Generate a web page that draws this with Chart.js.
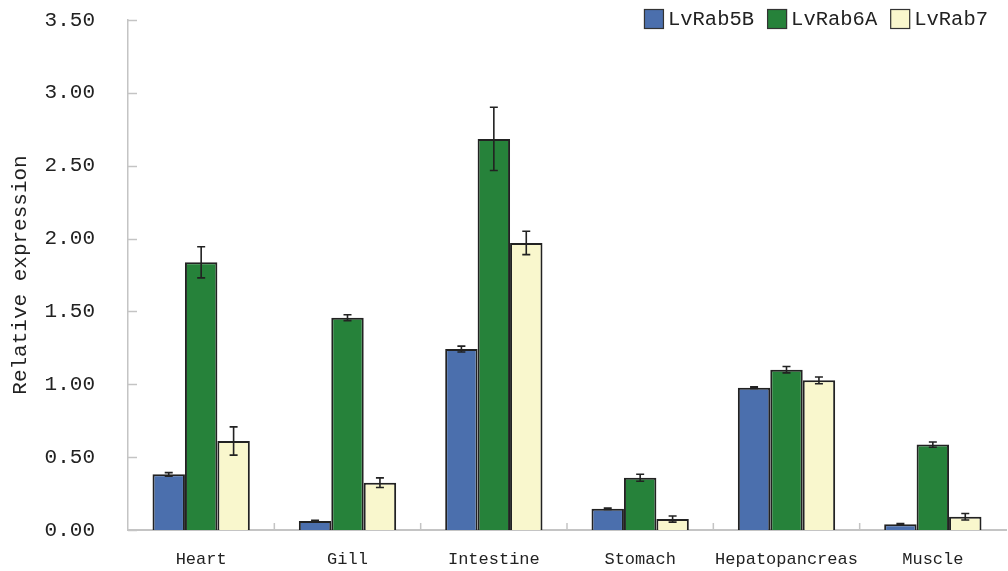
<!DOCTYPE html>
<html><head><meta charset="utf-8">
<script src="https://cdn.jsdelivr.net/npm/chart.js@4.4.1/dist/chart.umd.min.js"></script>
<style>html,body{margin:0;padding:0;background:#fff;}#wrap{width:1008px;height:571px;position:relative;}</style>
</head><body><div id="wrap"><canvas id="c" width="1008" height="571"></canvas></div>
<script>
const categories = ['Heart','Gill','Intestine','Stomach','Hepatopancreas','Muscle'];
const seriesNames = ['LvRab5B','LvRab6A','LvRab7'];
const rab5B = [0.382, 0.062, 1.242, 0.146, 0.977, 0.039];
const rab5BErr = [0.012, 0.005, 0.020, 0.005, 0.005, 0.005];
const rab6A = [1.837, 1.457, 2.684, 0.359, 1.100, 0.586];
const rab6AErr = [0.107, 0.020, 0.217, 0.024, 0.022, 0.018];
const rab7 = [0.611, 0.325, 1.970, 0.075, 1.027, 0.091];
const rab7Err = [0.097, 0.033, 0.080, 0.021, 0.023, 0.022];
const yTicks = [0, 0.5, 1.0, 1.5, 2.0, 2.5, 3.0, 3.5];
const colors = ['#4b6fad', '#26823a', '#f9f7cd'];

const errors = [rab5BErr, rab6AErr, rab7Err];
const MONO = '"Liberation Mono", "DejaVu Sans Mono", monospace';

const errorBars = {
  id: 'errorBars',
  afterDatasetsDraw(chart) {
    const ctx = chart.ctx, ys = chart.scales.y;
    ctx.save();
    ctx.strokeStyle = '#222';
    ctx.lineWidth = 1.6;
    chart.data.datasets.forEach((ds, di) => {
      const meta = chart.getDatasetMeta(di);
      meta.data.forEach((el, i) => {
        const v = ds.data[i], e = errors[di][i];
        const yt = ys.getPixelForValue(v + e), yb = ys.getPixelForValue(v - e);
        ctx.beginPath();
        ctx.moveTo(el.x, yt); ctx.lineTo(el.x, yb);
        ctx.moveTo(el.x - 4, yt); ctx.lineTo(el.x + 4, yt);
        ctx.moveTo(el.x - 4, yb); ctx.lineTo(el.x + 4, yb);
        ctx.stroke();
      });
    });
    ctx.restore();
  }
};

const innerTicks = {
  id: 'innerTicks',
  afterDraw(chart) {
    const ctx = chart.ctx, ys = chart.scales.y, xs = chart.scales.x, a = chart.chartArea;
    ctx.save();
    ctx.strokeStyle = '#c4c4c4';
    ctx.lineWidth = 1.5;
    yTicks.forEach(t => {
      const y = Math.round(ys.getPixelForValue(t)) + 0.5;
      ctx.beginPath(); ctx.moveTo(a.left, y); ctx.lineTo(a.left + 9, y); ctx.stroke();
    });
    for (let i = 1; i < categories.length; i++) {
      const x = (xs.getPixelForValue(i - 1) + xs.getPixelForValue(i)) / 2;
      ctx.beginPath(); ctx.moveTo(x, a.bottom); ctx.lineTo(x, a.bottom - 7); ctx.stroke();
    }
    // legend
    ctx.font = '20.5px ' + MONO;
    ctx.textBaseline = 'middle';
    ctx.textAlign = 'left';
    let right = 988;
    const items = chart.data.datasets.map((d, i) => ({label: d.label, color: d.backgroundColor, w: ctx.measureText(d.label).width}));
    const xs0 = [];
    for (let i = items.length - 1; i >= 0; i--) {
      const x = right - items[i].w - 24;
      xs0[i] = x;
      right = x - 13;
    }
    items.forEach((it, i) => {
      const x = xs0[i];
      ctx.fillStyle = it.color;
      ctx.fillRect(x, 9, 20, 20);
      ctx.strokeStyle = '#333'; ctx.lineWidth = 1.2;
      ctx.strokeRect(x + 0.5, 9.5, 19, 19);
      ctx.fillStyle = '#222';
      ctx.fillText(it.label, x + 24, 20);
    });
    ctx.restore();
  }
};

new Chart(document.getElementById('c'), {
  type: 'bar',
  data: {
    labels: categories,
    datasets: [
      {label: seriesNames[0], data: rab5B, backgroundColor: colors[0]},
      {label: seriesNames[1], data: rab6A, backgroundColor: colors[1]},
      {label: seriesNames[2], data: rab7, backgroundColor: colors[2]}
    ].map(d => Object.assign(d, {borderColor: '#222', borderWidth: 2, categoryPercentage: 0.665, barPercentage: 1.0}))
  },
  options: {
    responsive: false,
    animation: false,
    layout: {padding: {left: 0, right: 2, top: 20, bottom: 0}},
    plugins: {legend: {display: false}, tooltip: {enabled: false}},
    scales: {
      x: {
        grid: {display: false, drawTicks: false},
        border: {display: true, color: '#c4c4c4', width: 2},
        ticks: {color: '#222', font: {family: MONO, size: 17}, padding: 19, maxRotation: 0, autoSkip: false},
        afterFit(s) { s.height = 41; s.paddingLeft = 0; s.paddingRight = 0; }
      },
      y: {
        min: 0, max: 3.5,
        afterBuildTicks(s) { s.ticks = yTicks.map(v => ({value: v})); },
        grid: {display: false, drawTicks: false},
        border: {display: true, color: '#c4c4c4', width: 1.5},
        ticks: {color: '#222', font: {family: MONO, size: 21}, padding: 33, callback: v => Number(v).toFixed(2)},
        title: {display: true, text: 'Relative expression', color: '#222', font: {family: MONO, size: 21}, padding: {top: 8, bottom: 0}},
        afterFit(s) { s.width = 128; s.paddingTop = 0; s.paddingBottom = 0; }
      }
    }
  },
  plugins: [errorBars, innerTicks]
});
</script></body></html>
